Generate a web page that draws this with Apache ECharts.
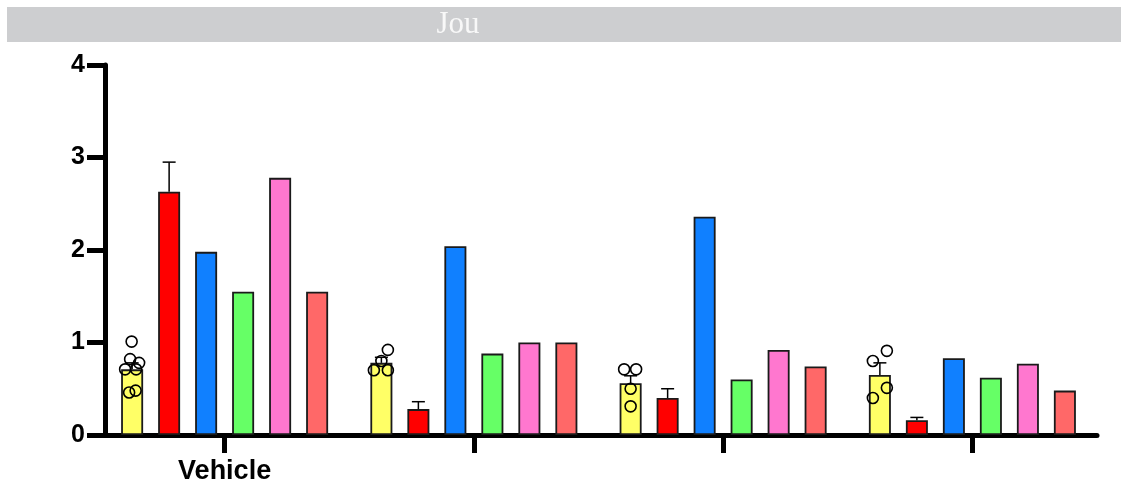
<!DOCTYPE html>
<html>
<head>
<meta charset="utf-8">
<title>Jou</title>
<script src="https://cdn.jsdelivr.net/npm/echarts@6/dist/echarts.min.js"></script>
<style>
  html, body { margin: 0; padding: 0; background: #ffffff; }
  #chart { width: 1121px; height: 489px; }
</style>
</head>
<body>
<div id="chart"></div>
<script>
// ---- data ----
const categories = ['Vehicle', '', '', ''];
const yTicks = [0, 1, 2, 3, 4];

const yellowMean = [0.71, 0.78, 0.56, 0.65];
const yellowSem  = [0.07, 0.06, 0.08, 0.13];
const yellowPoints = [
  [1.01, 0.82, 0.78, 0.71, 0.71, 0.46, 0.48],
  [0.70, 0.70, 0.80, 0.92],
  [0.71, 0.71, 0.50, 0.31],
  [0.80, 0.91, 0.51, 0.40]
];
const redMean = [2.63, 0.28, 0.40, 0.16];
const redSem  = [0.32, 0.08, 0.10, 0.03];
const blueMean   = [1.98, 2.04, 2.36, 0.83];
const greenMean  = [1.55, 0.88, 0.60, 0.62];
const pinkMean   = [2.78, 1.00, 0.92, 0.77];
const salmonMean = [1.55, 1.00, 0.74, 0.48];

// ---- layout / style ----
const barWidth = 22;
const barGapPx = 15;
const barStep = barWidth + barGapPx;
const nSeries = 6;
const tickLen = 18;
// horizontal scatter of individual points inside the yellow bar, in px
const pointJitter = [
  [-0.5, -2, 7, -7, 4, -3, 3.5],
  [-7.5, 6.5, 0, 6.5],
  [-6.5, 5.5, 0, 0],
  [-7, 7, 7, -7]
];
const colors = ['#FFFF66', '#FF0000', '#1080FF', '#66FF66', '#FF77CF', '#FF6868'];
const seriesValues = [yellowMean, redMean, blueMean, greenMean, pinkMean, salmonMean];
const seriesNames = ['Group 1', 'Group 2', 'Group 3', 'Group 4', 'Group 5', 'Group 6'];

function barOffset(i) {
  return (i - (nSeries - 1) / 2) * barStep;
}

const barSeries = seriesValues.map(function (vals, i) {
  return {
    name: seriesNames[i],
    type: 'bar',
    data: vals,
    barWidth: barWidth,
    barGap: (barGapPx / barWidth * 100) + '%',
    itemStyle: { color: colors[i], borderColor: '#1a1a1a', borderWidth: 1.8 },
    silent: true,
    z: 2
  };
});

// error bars (upper whisker only)
const errData = [];
[[0, yellowMean, yellowSem], [1, redMean, redSem]].forEach(function (s) {
  s[1].forEach(function (m, c) {
    errData.push([c, m, m + s[2][c], s[0]]);
  });
});

const pointData = [];
yellowPoints.forEach(function (pts, c) {
  pts.forEach(function (v, k) {
    pointData.push([c, v, pointJitter[c][k]]);
  });
});

const errorSeries = {
  type: 'custom',
  data: errData,
  z: 3,
  silent: true,
  renderItem: function (params, api) {
    const c = api.value(0);
    const base = api.coord([c, api.value(1)]);
    const top = api.coord([c, api.value(2)]);
    const x = base[0] + barOffset(api.value(3));
    const cap = 6.5;
    const style = { stroke: '#000', lineWidth: 1.5 };
    return {
      type: 'group',
      children: [
        { type: 'line', shape: { x1: x, y1: base[1], x2: x, y2: top[1] }, style: style },
        { type: 'line', shape: { x1: x - cap, y1: top[1], x2: x + cap, y2: top[1] }, style: style }
      ]
    };
  }
};

const pointSeries = {
  type: 'custom',
  data: pointData,
  z: 4,
  silent: true,
  renderItem: function (params, api) {
    const p = api.coord([api.value(0), api.value(1)]);
    return {
      type: 'circle',
      shape: { cx: p[0] + barOffset(0) + api.value(2), cy: p[1], r: 5.5 },
      style: { fill: 'none', stroke: '#000', lineWidth: 1.6 }
    };
  }
};

const chart = echarts.init(document.getElementById('chart'), null, { renderer: 'canvas' });
chart.setOption({
  animation: false,
  backgroundColor: '#ffffff',
  graphic: [
    { type: 'rect', shape: { x: 7, y: 7, width: 1114, height: 35 }, style: { fill: '#CDCED0' }, silent: true },
    { type: 'text', x: 458, y: 25, style: { text: 'Jou', fill: '#F8F8F8', font: '31px "Liberation Serif", "Times New Roman", serif', textAlign: 'center', textVerticalAlign: 'middle' }, silent: true }
  ],
  grid: { left: 100, right: 24, top: 65, bottom: 54 },
  xAxis: {
    type: 'category',
    data: categories,
    boundaryGap: true,
    axisLine: { show: true, lineStyle: { color: '#000', width: 5 } },
    axisTick: { show: true, alignWithLabel: true, length: tickLen, lineStyle: { color: '#000', width: 5 } },
    axisLabel: { show: true, interval: 0, color: '#000', fontSize: 27, fontWeight: 'bold', fontFamily: '"Liberation Sans", Arial, sans-serif', margin: 23 },
    splitLine: { show: false }
  },
  yAxis: {
    type: 'value',
    min: yTicks[0],
    max: yTicks[yTicks.length - 1],
    interval: 1,
    offset: -5,
    axisLine: { show: true, lineStyle: { color: '#000', width: 5 } },
    axisTick: { show: true, length: tickLen, lineStyle: { color: '#000', width: 5 } },
    axisLabel: { color: '#000', fontSize: 25, fontWeight: 'bold', fontFamily: '"Liberation Sans", Arial, sans-serif', margin: tickLen + 2 },
    splitLine: { show: false }
  },
  series: barSeries.concat([errorSeries, pointSeries])
});
</script>
</body>
</html>
